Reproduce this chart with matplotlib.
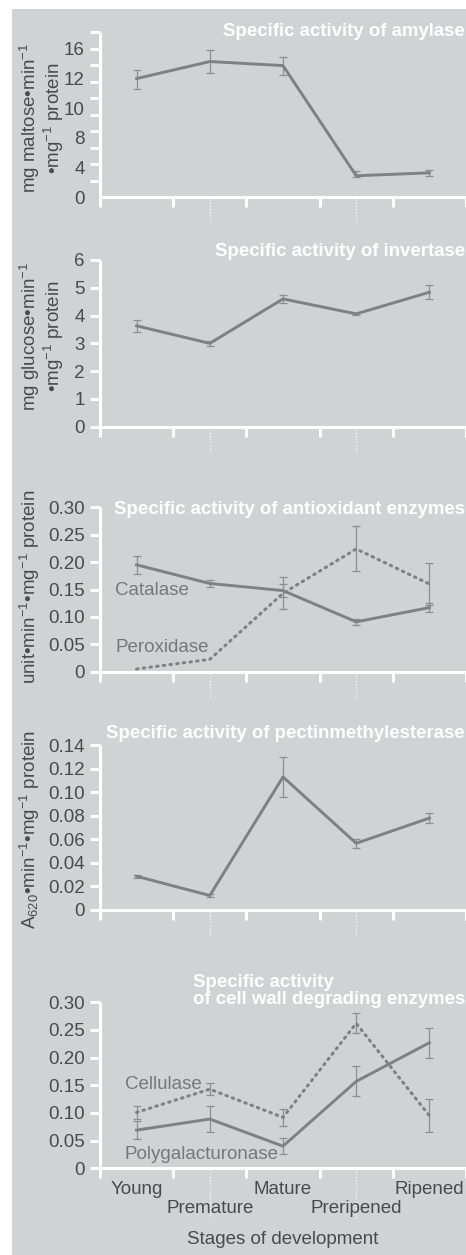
import numpy as np
import matplotlib
matplotlib.use("Agg")
import matplotlib.pyplot as plt
import matplotlib.transforms as mtransforms
from matplotlib.patches import Rectangle
from matplotlib.ticker import FixedLocator, FuncFormatter

plt.rcParams['font.family'] = ['Liberation Sans', 'DejaVu Sans']
plt.rcParams['mathtext.fontset'] = 'custom'
plt.rcParams['mathtext.rm'] = 'Liberation Sans'
plt.rcParams['mathtext.it'] = 'Liberation Sans:italic'
plt.rcParams['mathtext.bf'] = 'Liberation Sans:bold'

# ---------------- data ----------------
stages = ["Young", "Premature", "Mature", "Preripened", "Ripened"]

amylase = [12.0, 14.3, 13.75, 2.9, 3.3]
amylase_err_low = [0.67, 1.57, 1.21, 0.22, 0.49]
amylase_err_high = [1.16, 1.49, 1.22, 0.59, 0.41]
amylase_ticks = [0, 4, 8, 10, 12, 16]

invertase = [3.63, 3.0, 4.6, 4.06, 4.84]
invertase_err = [0.22, 0.08, 0.15, 0.04, 0.25]

catalase = [0.195, 0.161, 0.148, 0.091, 0.117]
catalase_err = [0.016, 0.007, 0.012, 0.006, 0.008]
peroxidase = [0.005, 0.0225, 0.143, 0.224, 0.160]
peroxidase_err = [0.0, 0.0, 0.029, 0.041, 0.038]

pme = [0.0286, 0.0123, 0.1129, 0.0566, 0.078]
pme_err = [0.0013, 0.001, 0.017, 0.004, 0.0045]

cellulase = [0.101, 0.143, 0.092, 0.262, 0.095]
cellulase_err = [0.011, 0.011, 0.015, 0.018, 0.03]
polygalacturonase = [0.069, 0.089, 0.040, 0.157, 0.227]
polygalacturonase_err = [0.016, 0.024, 0.015, 0.027, 0.027]

# ---------------- style ----------------
W, H = 466, 1255
BG = "#d1d2d4"
LINE = "#808080"
ERR = "#8e8e8e"
TICKTXT = "#4a4a4a"
ANN = "#777777"
FS = 13.5
TFS = 13.4

fig = plt.figure(figsize=(W / 100, H / 100), dpi=100)
fig.patch.set_facecolor("white")
fig.add_artist(Rectangle((12 / W, 0), (W - 12) / W, (H - 9) / H,
                         transform=fig.transFigure, facecolor=BG,
                         edgecolor="none", zorder=-10))

xpos = np.arange(len(stages)) + 0.5


def make_ax(y0, ytop):
    ax = fig.add_axes([100 / W, 1 - y0 / H, (W - 100) / W, (y0 - ytop) / H])
    ax.patch.set_visible(False)
    for s in ("top", "right"):
        ax.spines[s].set_visible(False)
    for s in ("left", "bottom"):
        ax.spines[s].set_color("white")
        ax.spines[s].set_linewidth(2.2)
        ax.spines[s].set_capstyle("butt")
    ax.set_xlim(0, 5)
    ax.set_xticks(np.arange(6))
    ax.tick_params(axis="x", which="major", length=7, width=2.2,
                   color="white", labelbottom=False, direction="out")
    ax.tick_params(axis="y", which="both", length=7, width=2.2,
                   color="white", labelcolor=TICKTXT, labelsize=FS,
                   pad=4, direction="out")
    return ax


def guides(ax, y0, ytop, length_px):
    tr = mtransforms.blended_transform_factory(ax.transData, ax.transAxes)
    frac = length_px / (y0 - ytop)
    for xv in (xpos[1], xpos[3]):
        ax.plot([xv, xv], [-0.012, -frac], transform=tr, clip_on=False,
                color="white", lw=0.9, ls=(0, (1, 1.5)), alpha=0.85,
                zorder=0)


def series(ax, y, err, dotted=False, err_low=None):
    y = np.asarray(y)
    if err_low is not None:
        yerr = np.array([err_low, err])
        ax.errorbar(xpos, y, yerr=yerr, fmt="none", ecolor=ERR,
                    elinewidth=0.9, capsize=3, capthick=0.9, zorder=2)
    else:
        e = np.asarray(err)
        m = e > 0
        if m.any():
            ax.errorbar(xpos[m], y[m], yerr=e[m], fmt="none", ecolor=ERR,
                        elinewidth=0.9, capsize=3, capthick=0.9, zorder=2)
    if dotted:
        ax.plot(xpos, y, color=LINE, lw=2.2, ls=(0, (0.5, 1.7)),
                dash_capstyle="round", zorder=3)
    else:
        ax.plot(xpos, y, color=LINE, lw=2.1, zorder=3)


def title(ax, text, ypx, y0, ytop):
    ax.text(1.0 - 1 / (W - 100), (y0 - ypx) / (y0 - ytop), text,
            transform=ax.transAxes, ha="right", va="center",
            multialignment="left", color="white", fontweight="bold",
            fontsize=TFS, clip_on=False, linespacing=1.0)


def ylab(text, xpx, ypx):
    fig.text(xpx / W, 1 - ypx / H, text, rotation=90, ha="center",
             va="center", fontsize=FS, color=TICKTXT, multialignment="center",
             linespacing=1.0)


def fmt2(v, _):
    return "0" if abs(v) < 1e-9 else f"{v:.2f}"


# ---------------- panel 1: amylase ----------------
y0, yt = 197.3, 32.3
ax1 = make_ax(y0, yt)
tv = list(amylase_ticks)
tp = list(range(len(tv)))
ext_v = [-4] + tv + [20]
ext_p = [-1] + tp + [6]


def fwd(v):
    return np.interp(v, ext_v, ext_p)


def inv(p):
    return np.interp(p, ext_p, ext_v)


ax1.set_yscale("function", functions=(fwd, inv))
ptop = 5.56
ax1.set_ylim(0, float(inv(ptop)))
ax1.yaxis.set_major_locator(FixedLocator(tv))
ax1.yaxis.set_major_formatter(FuncFormatter(lambda v, _: f"{v:g}"))
ax1.yaxis.set_minor_locator(FixedLocator(inv(np.linspace(0, ptop, 11))))
ax1.yaxis.set_minor_formatter(FuncFormatter(lambda v, _: ""))
ax1.tick_params(axis="y", which="major", length=0, pad=11)
ax1.tick_params(axis="y", which="minor", length=7, width=2.2, color="white")
series(ax1, amylase, amylase_err_high, err_low=amylase_err_low)
title(ax1, "Specific activity of amylase", 31.7, y0, yt)
guides(ax1, y0, yt, 26)
ylab("mg maltose•min$^{-1}$\n•mg$^{-1}$ protein", 42, 118)

# ---------------- panel 2: invertase ----------------
y0, yt = 426.7, 260.0
ax2 = make_ax(y0, yt)
ax2.set_ylim(0, 6)
ax2.set_yticks(np.arange(0, 7, 1))
series(ax2, invertase, invertase_err)
title(ax2, "Specific activity of invertase", 251.7, y0, yt)
guides(ax2, y0, yt, 26)
ylab("mg glucose•min$^{-1}$\n•mg$^{-1}$ protein", 42, 336)

# ---------------- panel 3: antioxidant ----------------
y0, yt = 671.7, 507.3
ax3 = make_ax(y0, yt)
ax3.set_ylim(0, 0.30)
ax3.set_yticks(np.arange(0, 0.301, 0.05))
ax3.yaxis.set_major_formatter(FuncFormatter(fmt2))
series(ax3, catalase, catalase_err)
series(ax3, peroxidase, peroxidase_err, dotted=True)
bt3 = mtransforms.blended_transform_factory(ax3.transAxes, ax3.transData)
ax3.text(0.042, 0.148, "Catalase", color=ANN, fontsize=FS, va="center",
         ha="left", transform=bt3)
ax3.text(0.042, 0.045, "Peroxidase", color=ANN, fontsize=FS, va="center",
         ha="left", transform=bt3)
title(ax3, "Specific activity of antioxidant enzymes", 510, y0, yt)
guides(ax3, y0, yt, 26)
ylab("unit•min$^{-1}$•mg$^{-1}$ protein", 30, 587)

# ---------------- panel 4: PME ----------------
y0, yt = 910.0, 745.0
ax4 = make_ax(y0, yt)
ax4.set_ylim(0, 0.14)
ax4.set_yticks(np.arange(0, 0.141, 0.02))
ax4.yaxis.set_major_formatter(FuncFormatter(fmt2))
series(ax4, pme, pme_err)
title(ax4, "Specific activity of pectinmethylesterase", 733, y0, yt)
guides(ax4, y0, yt, 26)
ylab("A$_{620}$•min$^{-1}$•mg$^{-1}$ protein", 30, 829)

# ---------------- panel 5: cell wall ----------------
y0, yt = 1168.3, 1002.3
ax5 = make_ax(y0, yt)
ax5.set_ylim(0, 0.30)
ax5.set_yticks(np.arange(0, 0.301, 0.05))
ax5.yaxis.set_major_formatter(FuncFormatter(fmt2))
series(ax5, polygalacturonase, polygalacturonase_err)
series(ax5, cellulase, cellulase_err, dotted=True)
bt = mtransforms.blended_transform_factory(ax5.transAxes, ax5.transData)
ax5.text(0.068, 0.152, "Cellulase", color=ANN, fontsize=FS, va="center",
         ha="left", transform=bt)
ax5.text(0.068, 0.0245, "Polygalacturonase", color=ANN, fontsize=FS,
         va="center", ha="left", transform=bt)
title(ax5, "Specific activity\nof cell wall degrading enzymes", 990.5, y0, yt)
guides(ax5, y0, yt, 52)

# staggered stage labels below the bottom axis
hpx = y0 - yt
xt = mtransforms.blended_transform_factory(ax5.transData, ax5.transAxes)
row_px = [21.5, 40.5]
for i, s in enumerate(stages):
    ax5.text(xpos[i], -row_px[i % 2] / hpx, s, transform=xt, ha="center",
             va="center", fontsize=FS, color=TICKTXT, clip_on=False)
ax5.text(0.5, -71 / hpx, "Stages of development", transform=ax5.transAxes,
         ha="center", va="center", fontsize=FS, color=TICKTXT, clip_on=False)

fig.savefig("out.png", dpi=100, facecolor=fig.get_facecolor())
